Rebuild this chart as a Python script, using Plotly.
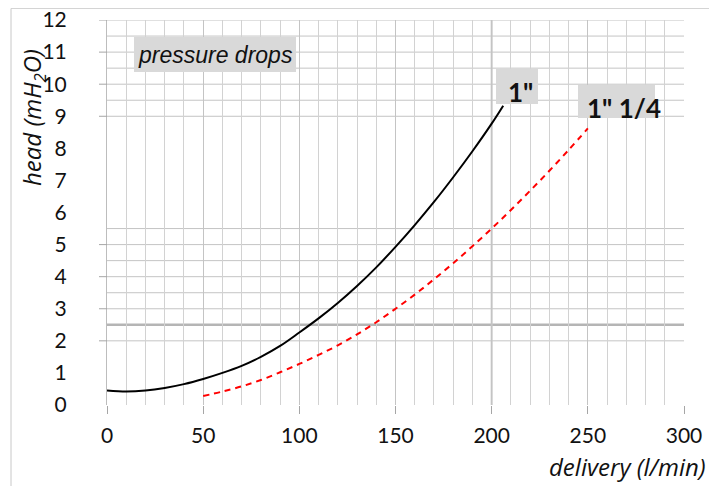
import plotly.graph_objects as go

# ---- data ----
q_1in = [0, 10, 20, 30, 40, 50, 60, 70, 80, 90, 100, 110, 120, 130, 140, 150,
         160, 170, 180, 190, 200, 206]
h_1in = [0.45, 0.42, 0.45, 0.53, 0.65, 0.81, 1.00, 1.22, 1.50, 1.84, 2.26, 2.70,
         3.18, 3.71, 4.29, 4.93, 5.61, 6.33, 7.10, 7.91, 8.77, 9.33]

q_1in14 = [50, 60, 70, 80, 90, 100, 110, 120, 130, 140, 150, 160, 170, 180, 190,
           200, 210, 220, 230, 240, 250]
h_1in14 = [0.28, 0.42, 0.58, 0.78, 1.02, 1.28, 1.56, 1.86, 2.20, 2.58, 3.00, 3.44,
           3.92, 4.42, 4.95, 5.50, 6.08, 6.68, 7.30, 7.95, 8.62]

x_ticks = [0, 50, 100, 150, 200, 250, 300]
y_ticks = list(range(0, 13))
hgrid_low = [2, 2.5, 3, 3.5, 4, 4.5, 5, 5.5]
hgrid_high = [9, 9.5, 10, 10.5, 11, 11.5, 12]
ytick_marks = [2, 3, 4, 5, 9, 10, 11, 12]

# page has an 8px body margin; figure is sized so it sits inside the window
OFF = 8
W, H = 717 - OFF, 486 - OFF
ML, MR, MT, MB = 107 - OFF, 33, 20 - OFF, 81
PW, PH = W - ML - MR, H - MT - MB

def px2paper_x(px):
    return (px - OFF - ML) / PW

def px2paper_y(py):
    return (H - MB - (py - OFF)) / PH

fig = go.Figure()
fig.add_trace(go.Scatter(x=q_1in, y=h_1in, mode="lines", name='1"',
                         line=dict(color="black", width=2, shape="spline"),
                         showlegend=False))
fig.add_trace(go.Scatter(x=q_1in14, y=h_1in14, mode="lines", name='1" 1/4',
                         line=dict(color="#ff0000", width=2, dash="6px,5px",
                                   shape="spline"),
                         showlegend=False))

shapes = []
for yv in hgrid_low + hgrid_high:
    thick = (yv == 2.5)
    shapes.append(dict(type="line", xref="x", yref="y", x0=0, x1=300, y0=yv, y1=yv,
                       line=dict(color="#b5b5b5" if thick else "#c4c4c4",
                                 width=2.5 if thick else 1), layer="below"))
shapes.append(dict(type="line", xref="x", yref="y", x0=200, x1=200, y0=0, y1=12,
                   line=dict(color="#c8c8c8", width=2), layer="below"))
for yv in ytick_marks:
    shapes.append(dict(type="line", xref="paper", yref="y", x0=px2paper_x(99), x1=0,
                       y0=yv, y1=yv, line=dict(color="#a6a6a6", width=1)))
# label boxes
box_fill = "#d9d9d9"
shapes.append(dict(type="rect", xref="paper", yref="paper",
                   x0=px2paper_x(134), x1=px2paper_x(296),
                   y0=px2paper_y(72), y1=px2paper_y(37),
                   fillcolor=box_fill, line=dict(width=0)))
shapes.append(dict(type="rect", xref="paper", yref="paper",
                   x0=px2paper_x(496), x1=px2paper_x(538),
                   y0=px2paper_y(104), y1=px2paper_y(69),
                   fillcolor=box_fill, line=dict(width=0)))
shapes.append(dict(type="rect", xref="paper", yref="paper",
                   x0=px2paper_x(578), x1=px2paper_x(655),
                   y0=px2paper_y(118), y1=px2paper_y(85),
                   fillcolor=box_fill, line=dict(width=0)))
# outer chart border
shapes.append(dict(type="line", xref="paper", yref="paper",
                   x0=px2paper_x(11), x1=px2paper_x(711),
                   y0=px2paper_y(8.5), y1=px2paper_y(8.5),
                   line=dict(color="#d4d4d4", width=1)))
shapes.append(dict(type="line", xref="paper", yref="paper",
                   x0=px2paper_x(11), x1=px2paper_x(11),
                   y0=px2paper_y(8.5), y1=px2paper_y(486),
                   line=dict(color="#c8c8c8", width=1)))
shapes.append(dict(type="line", xref="paper", yref="paper",
                   x0=px2paper_x(711), x1=px2paper_x(711),
                   y0=px2paper_y(8.5), y1=px2paper_y(486),
                   line=dict(color="#d4d4d4", width=1, dash="dot")))

tick_font = dict(family="Lato, Open Sans, sans-serif", size=21, color="#111111")
annotations = [
    dict(text="<i>pressure drops</i>", xref="paper", yref="paper",
         x=px2paper_x(215), y=px2paper_y(55), xanchor="center", yanchor="middle",
         showarrow=False,
         font=dict(family="Liberation Sans, Arial, sans-serif", size=23, color="#111111")),
    dict(text="<b>1\"</b>", xref="paper", yref="paper",
         x=px2paper_x(520), y=px2paper_y(92), xanchor="center", yanchor="middle",
         showarrow=False,
         font=dict(family="Lato, sans-serif", size=26, color="#111111")),
    dict(text="<b>1\" 1/4</b>", xref="paper", yref="paper",
         x=px2paper_x(624), y=px2paper_y(108), xanchor="center", yanchor="middle",
         showarrow=False,
         font=dict(family="Lato, sans-serif", size=26, color="#111111")),
    dict(text="<i>head (mH<sub>2</sub>O)</i>", xref="paper", yref="paper",
         x=px2paper_x(33), y=px2paper_y(118), xanchor="center", yanchor="middle",
         showarrow=False, textangle=-90,
         font=dict(family="Open Sans, sans-serif", size=24, color="#111111")),
    dict(text="<i>delivery (l/min)</i>", xref="paper", yref="paper",
         x=px2paper_x(708), y=px2paper_y(466), xanchor="right", yanchor="middle",
         showarrow=False,
         font=dict(family="Open Sans, sans-serif", size=24, color="#111111")),
]

fig.update_layout(
    width=W, height=H,
    margin=dict(l=ML, r=MR, t=MT, b=MB, autoexpand=False),
    paper_bgcolor="white", plot_bgcolor="white",
    shapes=shapes, annotations=annotations,
    xaxis=dict(range=[0, 300], tickvals=x_ticks, ticks="outside", ticklen=8,
               tickcolor="#a6a6a6", showgrid=True, gridcolor="#c4c4c4",
               minor=dict(dtick=10, showgrid=True, gridcolor="#d2d2d2", ticks=""),
               showline=False, zeroline=False, tickfont=tick_font,
               ticklabelstandoff=4, automargin=False),
    yaxis=dict(range=[0, 12.001], tickvals=y_ticks, ticks="", showgrid=False,
               showline=True, linecolor="#bdbdbd", zeroline=False,
               tickfont=tick_font, ticklabelstandoff=35, automargin=False,
               ticklabeloverflow="allow"),
)

fig.write_html("out.html")
